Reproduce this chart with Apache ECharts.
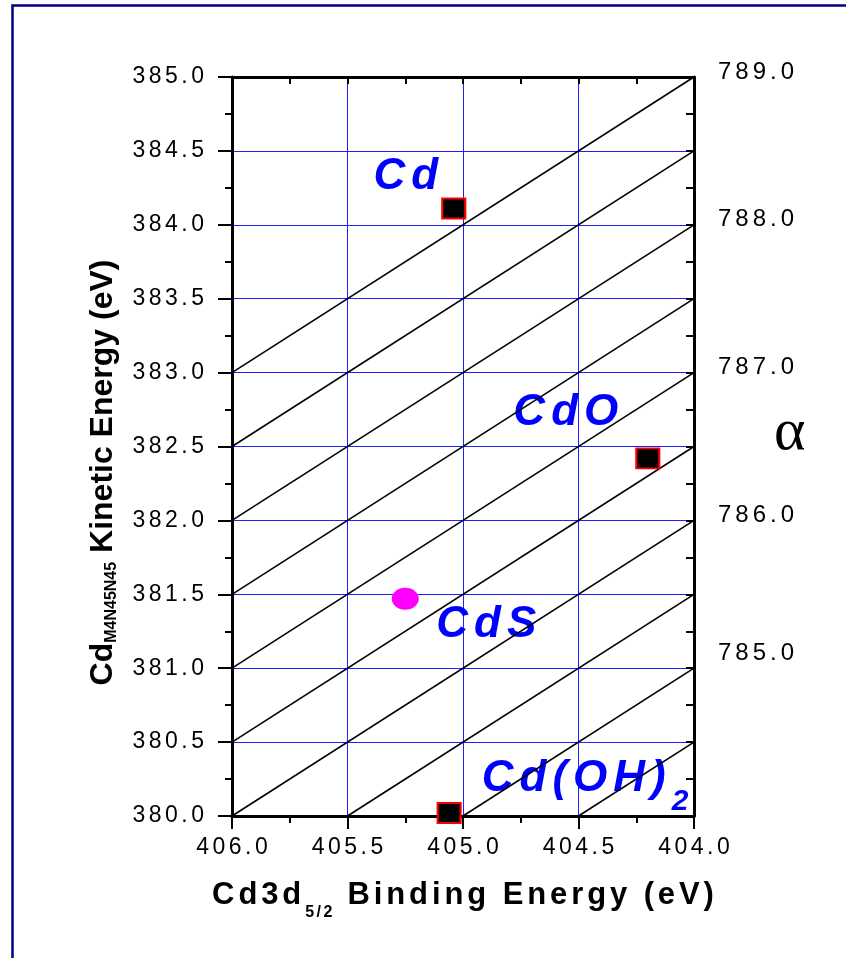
<!DOCTYPE html>
<html><head><meta charset="utf-8">
<script src="https://cdn.jsdelivr.net/npm/echarts@6/dist/echarts.min.js"></script>
<style>html,body{margin:0;padding:0;background:#fff}#c{width:846px;height:958px}</style>
</head><body><div id="c"></div>
<script>
// ---- data ----
const compounds = ['Cd', 'CdO', 'CdS', 'Cd(OH)2'];
const bindingEnergy = [405.04, 404.20, 405.25, 405.06];   // Cd3d5/2 BE (eV)
const kineticEnergy = [384.11, 382.42, 381.47, 380.02];   // Cd MNN KE (eV)
const alphaLevels = [784.5, 785.0, 785.5, 786.0, 786.5, 787.0, 787.5, 788.0, 788.5, 789.0]; // Auger parameter lines
const beRange = [404.0, 406.0];
const keRange = [380.0, 385.0];

// ---- helpers ----
const FONT = 'Liberation Sans';
function spaced(str, st, stLast) {
  const ch = Array.from(str);
  return ch.map((c, i) => '{' + (i === ch.length - 1 ? stLast : st) + '|' + c + '}').join('');
}
function tickRich(size, gap, extraBottom) {
  return {
    d: {fontFamily: FONT, fontSize: size, color: '#000', padding: [0, gap, extraBottom || 0, 0]},
    e: {fontFamily: FONT, fontSize: size, color: '#000', padding: [0, 0, extraBottom || 0, 0]}
  };
}

// iso-alpha lines: KE + BE = alpha, clipped to the plot window
const alphaSeries = alphaLevels.map(a => {
  let be1 = beRange[1], ke1 = a - be1;
  if (ke1 < keRange[0]) { ke1 = keRange[0]; be1 = a - ke1; }
  let be2 = beRange[0], ke2 = a - be2;
  if (ke2 > keRange[1]) { ke2 = keRange[1]; be2 = a - ke2; }
  return {
    type: 'line', data: [[be1, ke1], [be2, ke2]], symbol: 'none', silent: true, z: 3,
    lineStyle: {color: '#000', width: 1.6}, clip: true
  };
});

const annRich = {
  a: {fontFamily: FONT, fontSize: 44, fontWeight: 'bold', fontStyle: 'italic', color: '#0000ff', padding: [0, 6, 0, 0]},
  aL: {fontFamily: FONT, fontSize: 44, fontWeight: 'bold', fontStyle: 'italic', color: '#0000ff'},
  sub: {fontFamily: FONT, fontSize: 30, fontWeight: 'bold', fontStyle: 'italic', color: '#0000ff', padding: [46, 0, 0, 0]}
};
function annText(name) {
  const m = name.match(/^(.*?)(\d*)$/);
  let s = spaced(m[1], 'a', m[2] ? 'a' : 'aL');
  if (m[2]) s += '{sub|' + m[2] + '}';
  return s;
}
const annOffsets = [[-48, -32], [-82, -45], [81, 26], [136, -34]];

const ellipse = 'path://M50 0A50 50 0 1 1 50 100A50 50 0 1 1 50 0Z';
const markerData = compounds.map((c, i) => {
  const isS = c === 'CdS';
  return {
    name: c,
    value: [bindingEnergy[i], kineticEnergy[i]],
    symbol: isS ? ellipse : 'rect',
    symbolSize: isS ? [27, 22] : [23, 20],
    itemStyle: isS ? {color: '#ff00ff', borderWidth: 0, opacity: 1}
                   : {color: '#000', borderColor: '#ff0000', borderWidth: 2, opacity: 1}
  };
});
const labelData = compounds.map((c, i) => ({
  name: c,
  value: [bindingEnergy[i], kineticEnergy[i]],
  label: {offset: annOffsets[i]}
}));

const xTitle = spaced('Cd3d', 't', 't') + spaced('5/2', 's', 's') + spaced(' Binding Energy (eV)', 't', 'tL');
const yTitle = '{y|Cd}{ys|M4N45N45}{y| Kinetic Energy (eV)}';

const chart = echarts.init(document.getElementById('c'), null, {renderer: 'canvas'});
chart.setOption({
  animation: false,
  backgroundColor: '#fff',
  grid: {left: 232, top: 77, width: 462, height: 739},
  graphic: [{
    type: 'rect', shape: {x: 12.5, y: 5.5, width: 900, height: 1000},
    style: {fill: 'none', stroke: '#000080', lineWidth: 2.5}, silent: true, z: 100
  }],
  xAxis: [{
    type: 'value', min: beRange[0], max: beRange[1], interval: 0.5, inverse: true, position: 'bottom',
    axisLine: {show: true, onZero: false, lineStyle: {color: '#000', width: 3}},
    axisTick: {show: true, inside: false, length: 13, lineStyle: {color: '#000', width: 2}},
    minorTick: {show: true, splitNumber: 2, length: 7, lineStyle: {color: '#000', width: 2}},
    splitLine: {show: true, showMinLine: false, showMaxLine: false, lineStyle: {color: '#1f1fff', width: 1}},
    axisLabel: {margin: 20, formatter: v => spaced(v.toFixed(1), 'd', 'e'), rich: tickRich(23, 3.5)},
    name: xTitle, nameLocation: 'middle', nameGap: 53,
    nameTextStyle: {rich: {
      t: {fontFamily: FONT, fontSize: 31, fontWeight: 'bold', color: '#000', padding: [0, 3.9, 0, 0]},
      tL: {fontFamily: FONT, fontSize: 31, fontWeight: 'bold', color: '#000'},
      s: {fontFamily: FONT, fontSize: 16, fontWeight: 'bold', color: '#000', padding: [36, 2.5, 0, 0]}
    }}
  }, {
    type: 'value', min: beRange[0], max: beRange[1], interval: 0.25, inverse: true, position: 'top',
    axisLine: {show: true, onZero: false, lineStyle: {color: '#000', width: 3}},
    axisTick: {show: true, inside: true, length: 7, lineStyle: {color: '#000', width: 2}},
    axisLabel: {show: false}, splitLine: {show: false}
  }],
  yAxis: [{
    type: 'value', min: keRange[0], max: keRange[1], interval: 0.5, position: 'left',
    axisLine: {show: true, onZero: false, lineStyle: {color: '#000', width: 3}},
    axisTick: {show: true, inside: false, length: 14, lineStyle: {color: '#000', width: 2}},
    minorTick: {show: true, splitNumber: 2, length: 7, lineStyle: {color: '#000', width: 2}},
    splitLine: {show: true, showMinLine: false, showMaxLine: false, lineStyle: {color: '#1f1fff', width: 1}},
    axisLabel: {margin: 28, formatter: v => spaced(v.toFixed(1), 'd', 'e'), rich: tickRich(23, 3.5)},
    name: yTitle, nameLocation: 'middle', nameGap: 112, nameRotate: 90,
    nameTextStyle: {padding: [0, 52, 0, 0], rich: {
      y: {fontFamily: FONT, fontSize: 32, fontWeight: 'bold', color: '#000'},
      ys: {fontFamily: FONT, fontSize: 16, fontWeight: 'bold', color: '#000', padding: [17, 0, 0, 0]}
    }}
  }, {
    type: 'value', min: keRange[0], max: keRange[1], interval: 0.25, position: 'right',
    axisLine: {show: true, onZero: false, lineStyle: {color: '#000', width: 3}},
    axisTick: {show: true, inside: true, length: 8, lineStyle: {color: '#000', width: 2}},
    splitLine: {show: false},
    axisLabel: {
      margin: 24, align: 'left',
      formatter: v => {
        if (Math.abs(v - Math.round(v)) > 1e-6 || v <= keRange[0]) return '';
        const txt = (v + beRange[0]).toFixed(1);
        return Math.round(v) === 381 ? spaced(txt, 'f', 'g') : spaced(txt, 'd', 'e');
      },
      rich: Object.assign(tickRich(24, 4, 10), {
        f: {fontFamily: FONT, fontSize: 24, color: '#000', padding: [0, 4, 30, 0]},
        g: {fontFamily: FONT, fontSize: 24, color: '#000', padding: [0, 0, 30, 0]}
      })
    },
    name: '{al|α}', nameLocation: 'middle', nameRotate: 0, nameGap: 80, nameMoveOverlap: false,
    nameTextStyle: {align: 'left', verticalAlign: 'middle', rich: {
      al: {fontFamily: 'Liberation Serif', fontSize: 60, color: '#000', padding: [0, 0, 26, 0]}
    }}
  }],
  series: [
    {
      type: 'scatter', name: 'labels', data: labelData, symbolSize: 0, z: 2, silent: true,
      itemStyle: {opacity: 1},
      label: {show: true, position: 'inside', formatter: p => annText(p.name), rich: annRich}
    },
    ...alphaSeries,
    {
      type: 'scatter', name: 'points', data: markerData, z: 4, clip: false, itemStyle: {opacity: 1}
    }
  ]
});
</script></body></html>
